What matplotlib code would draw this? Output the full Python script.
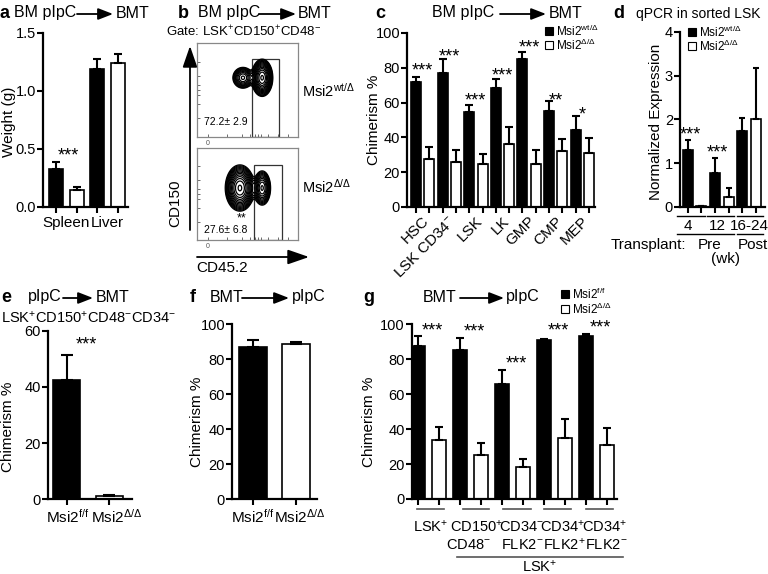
import numpy as np
import matplotlib
matplotlib.use('Agg')
import matplotlib.pyplot as plt
from matplotlib.patches import Rectangle

plt.rcParams['font.family'] = ['Liberation Sans', 'DejaVu Sans']
plt.rcParams['mathtext.fontset'] = 'custom'
plt.rcParams['mathtext.rm'] = 'Liberation Sans'
plt.rcParams['mathtext.it'] = 'Liberation Sans:italic'
plt.rcParams['mathtext.bf'] = 'Liberation Sans:bold'

W, H = 768, 574
HET = 'Msi2$^{\\mathregular{wt/Δ}}$'
KO = 'Msi2$^{\\mathregular{Δ/Δ}}$'
FF = 'Msi2$^{\\mathregular{f/f}}$'

# ---- data ----
# a: organ weight (g)
a_groups = ['Spleen', 'Liver']
a_het = [0.33, 1.19]
a_het_err = [0.06, 0.09]
a_ko = [0.15, 1.24]
a_ko_err = [0.02, 0.08]

# b: flow contour blobs (x, y, sx, sy, weight) in box fraction
b_top_blobs = [(0.455, 0.63, 0.045, 0.05, 0.35), (0.645, 0.63, 0.04, 0.075, 1.0)]
b_bot_blobs = [(0.425, 0.565, 0.055, 0.095, 1.0), (0.645, 0.565, 0.036, 0.08, 0.45)]
b_pct = ['72.2± 2.9', '27.6± 6.8']

# c: chimerism %
c_groups = ['HSC', 'LSK CD34$^{-}$', 'LSK', 'LK', 'GMP', 'CMP', 'MEP']
c_het = [72, 77, 54.5, 68.5, 85, 55.3, 44.3]
c_het_err = [3, 8, 4.4, 5, 3.8, 5.6, 8]
c_ko = [27.5, 25.6, 24.6, 36.1, 24.6, 32.3, 30.9]
c_ko_err = [7, 7, 5.7, 10, 8.2, 6.6, 8.6]
c_stars = ['***', '***', '***', '***', '***', '**', '*']
c_star_y = [83, 91, 66, 80, 96, 66, 58]

# d: qPCR normalized expression
d_times = ['4', '12', '16-24']
d_het = [1.3, 0.77, 1.73]
d_het_err = [0.22, 0.35, 0.3]
d_ko = [0.03, 0.22, 2.0]
d_ko_err = [0.0, 0.21, 1.18]
d_stars = ['***', '***', '']
d_star_y = [1.83, 1.42, 0]

# e: LT-HSC chimerism
e_labels = [FF, KO]
e_vals = [42.4, 1.0]
e_err = [9.0, 0.4]

# f: chimerism
f_labels = [FF, KO]
f_vals = [87, 88.8]
f_err = [3.8, 1.0]

# g: chimerism by population
g_top = ['LSK$^{+}$', 'CD150$^{+}$', 'CD34$^{-}$', 'CD34$^{+}$', 'CD34$^{+}$']
g_bot = ['', 'CD48$^{-}$', 'FLK2$^{-}$', 'FLK2$^{+}$', 'FLK2$^{-}$']
g_ff = [87.8, 85.3, 65.6, 91.0, 93.5]
g_ff_err = [5.7, 7.0, 8.2, 0.6, 0.9]
g_ko = [33.8, 25.4, 18.5, 34.9, 31.1]
g_ko_err = [7.6, 6.8, 4.6, 10.7, 9.4]
g_star_y = [101.3, 100.2, 81.9, 101.3, 102.5]

fig = plt.figure(figsize=(W / 100, H / 100), dpi=100)


def px_axes(left, top, right, bottom):
    return fig.add_axes([left / W, 1 - bottom / H, (right - left) / W, (bottom - top) / H])


def style(ax, xlim, ylim, yticks, ylabels=None):
    ax.set_xlim(*xlim)
    ax.set_ylim(*ylim)
    ax.set_yticks(yticks)
    if ylabels is not None:
        ax.set_yticklabels(ylabels)
    for s in ['top', 'right']:
        ax.spines[s].set_visible(False)
    for s in ['left', 'bottom']:
        ax.spines[s].set_linewidth(1.6)
    ax.tick_params(direction='out', length=4, width=1.5, labelsize=10.5, pad=1)
    ax.tick_params(axis='x', labelbottom=False)
    ax.patch.set_alpha(0)


def err_up(ax, x, v, e, cap=3):
    ax.errorbar(x, v, yerr=[np.zeros(len(v)), e], fmt='none', ecolor='black',
                elinewidth=1.5, capsize=cap, capthick=1.5, zorder=3)


def pair_bars(ax, black, black_err, white, white_err, width, cap=3):
    n = len(black)
    xb = np.arange(n) * 2
    xw = xb + 1
    ax.bar(xb, black, width, color='black', edgecolor='black', lw=1.2, zorder=2)
    ax.bar(xw, white, width, color='white', edgecolor='black', lw=1.2, zorder=2)
    err_up(ax, xb, black, black_err, cap)
    err_up(ax, xw, white, white_err, cap)
    ax.set_xticks(np.arange(2 * n))


# overlay for titles, labels and arrows (pixel coords)
ov = fig.add_axes([0, 0, 1, 1])
ov.set_xlim(0, W)
ov.set_ylim(H, 0)
ov.axis('off')


def arrow(x0, y0, x1, y1, hl=0.9, hw=0.35, lw=1.3):
    ov.annotate('', xy=(x1, y1), xytext=(x0, y0),
                arrowprops=dict(arrowstyle=f'-|>,head_length={hl},head_width={hw}',
                                lw=lw, color='black', shrinkA=0, shrinkB=0))


def txt(x, y, s, size=11, ha='left', **kw):
    ov.text(x, y, s, fontsize=size, ha=ha, va='center', **kw)


def title(letter, lx, parts, y):
    txt(lx, y, letter, size=13, weight='bold')
    for kind, x0, x1, s in parts:
        if kind == 't':
            txt(x0, y, s, size=11.5)
        else:
            arrow(x0, y + 1, x1, y + 1)


def legend(x, y, labels, size=8.5, gap=14):
    for i, (fc, s) in enumerate(zip(['black', 'white'], labels)):
        ov.add_patch(Rectangle((x, y + i * gap - 4), 8, 8, fc=fc, ec='black', lw=0.8))
        txt(x + 11, y + i * gap, s, size=size)


# ---- panel a ----
ax = px_axes(43, 33, 128, 207)
pair_bars(ax, a_het, a_het_err, a_ko, a_ko_err, 0.68)
style(ax, (-0.63, 3.48), (0, 1.5), [0, 0.5, 1.0, 1.5], ['0.0', '0.5', '1.0', '1.5'])
for i, g in enumerate(a_groups):
    ax.text(2 * i + 0.5, -0.05, g, transform=ax.get_xaxis_transform(), ha='center', va='top', fontsize=11)
ax.text(0.6, 0.51, '***', ha='center', va='top', fontsize=13)
title('a', 0, [('t', 14, 0, 'BM pIpC'), ('a', 77, 113, ''), ('t', 116, 0, 'BMT')], 13)
txt(9, 122, 'Weight (g)', ha='center', rotation=90)

# ---- panel b ----
gx, gy = np.meshgrid(np.linspace(0, 1, 400), np.linspace(0, 1, 400))
for (top, bot), blobs, gate, pct in zip([(43, 137), (148, 240)], [b_top_blobs, b_bot_blobs],
                                        [(0.545, 0.812, 0.83), (0.564, 0.842, 0.815)], b_pct):
    bx = px_axes(197, top, 298, bot)
    z = np.zeros_like(gx)
    for cx, cy, sx, sy, w in blobs:
        z += w * np.exp(-((gx - cx) ** 2 / (2 * sx ** 2) + (gy - cy) ** 2 / (2 * sy ** 2)))
    bx.contour(gx, gy, z, levels=np.geomspace(0.03, 0.95, 14), colors='black', linewidths=0.9)
    bx.add_patch(Rectangle((gate[0], 0), gate[1] - gate[0], gate[2], fill=False, ec='#333333', lw=0.9))
    bx.set_xlim(0, 1)
    bx.set_ylim(0, 1)
    for s in bx.spines.values():
        s.set_color('#888888')
        s.set_linewidth(0.9)
    bx.set_xticks([0.11])
    bx.set_xticklabels(['0'], fontsize=5)
    bx.set_yticks([])
    bx.set_xticks([0.3, 0.45, 0.52, 0.57, 0.6, 0.63, 0.7, 0.8, 0.9], minor=True)
    bx.set_yticks([0.2, 0.35, 0.45, 0.5, 0.55, 0.65, 0.8], minor=True)
    bx.tick_params(which='both', direction='in', length=2, width=0.6, pad=2, colors='#555555')
    bx.text(0.07, 0.16 if top == 43 else 0.11, pct, transform=bx.transAxes, fontsize=7.5, va='center')
    if top != 43:
        bx.text(0.445, 0.23, '**', transform=bx.transAxes, fontsize=9, ha='center', va='center')
title('b', 178, [('t', 198, 0, 'BM pIpC'), ('a', 259, 296, ''), ('t', 298, 0, 'BMT')], 13)
txt(244, 32, 'Gate: LSK$^{+}$CD150$^{+}$CD48$^{-}$', size=9.5, ha='center')
arrow(190, 230, 190, 46, hl=1.3, hw=0.45)
arrow(197, 257, 309, 257, hl=1.3, hw=0.45)
txt(175, 203, 'CD150', ha='center', rotation=90)
txt(222, 268, 'CD45.2', ha='center')
txt(302, 91, HET, size=10.5)
txt(302, 187, KO, size=10.5)

# ---- panel c ----
ax = px_axes(407, 33, 595, 207)
pair_bars(ax, c_het, c_het_err, c_ko, c_ko_err, 0.75)
style(ax, (-0.68, 13.46), (0, 100), np.arange(0, 101, 20))
for i, g in enumerate(c_groups):
    ax.text(2 * i + 0.45, -0.04, g, transform=ax.get_xaxis_transform(), ha='right', va='top',
            rotation=45, rotation_mode='anchor', fontsize=11)
for i, (s, y) in enumerate(zip(c_stars, c_star_y)):
    ax.text(2 * i + 0.5, y, s, ha='center', va='top', fontsize=13)
title('c', 375, [('t', 432, 0, 'BM pIpC'), ('a', 500, 546, ''), ('t', 549, 0, 'BMT')], 13)
txt(374, 120, 'Chimerism %', ha='center', rotation=90)
legend(545, 31, [HET, KO])

# ---- panel d ----
ax = px_axes(680, 31.7, 765, 207)
pair_bars(ax, d_het, d_het_err, d_ko, d_ko_err, 0.74, cap=2.5)
style(ax, (-0.59, 5.7), (0, 4), [0, 1, 2, 3, 4])
for i, (s, y) in enumerate(zip(d_stars, d_star_y)):
    if s:
        ax.text(2 * i + 0.2, y, s, ha='center', va='top', fontsize=13)
txt(613, 14, 'd', size=13, weight='bold')
txt(636, 14, 'qPCR in sorted LSK', size=10)
txt(656, 122, 'Normalized Expression', ha='center', rotation=90)
legend(688, 32, [HET, KO])
for x0, x1 in [(677, 705), (707, 734), (737, 763)]:
    ov.plot([x0, x1], [215.7, 215.7], color='black', lw=1)
for x0, x1 in [(677, 734), (737, 763)]:
    ov.plot([x0, x1], [234.3, 234.3], color='black', lw=1)
for x, s in zip([688, 717, 749], d_times):
    txt(x, 226, s, ha='center')
txt(648, 245, 'Transplant:', ha='center')
txt(710, 245, 'Pre', ha='center')
txt(753, 245, 'Post', ha='center')
txt(725, 259, '(wk)', ha='center')

# ---- panel e ----
ax = px_axes(48, 330.7, 132, 499.3)
ax.bar([0, 1], e_vals, 0.64, color=['black', 'white'], edgecolor='black', lw=1.2, zorder=2)
err_up(ax, [0, 1], e_vals, e_err, cap=4)
ax.set_xticks([0, 1])
style(ax, (-0.44, 1.54), (0, 60), [0, 20, 40, 60])
for x, s in zip([0.03, 1.19], e_labels):
    ax.text(x, -0.05, s, transform=ax.get_xaxis_transform(), ha='center', va='top', fontsize=11)
ax.text(0.46, 57.8, '***', ha='center', va='top', fontsize=13)
title('e', 1, [('t', 28, 0, 'pIpC'), ('a', 63, 93, ''), ('t', 96, 0, 'BMT')], 297)
txt(1, 318, 'LSK$^{+}$CD150$^{+}$CD48$^{-}$CD34$^{-}$', size=10.5)
txt(8, 427, 'Chimerism %', ha='center', rotation=90)

# ---- panel f ----
ax = px_axes(232, 324.3, 317, 499.3)
ax.bar([0, 1], f_vals, 0.65, color=['black', 'white'], edgecolor='black', lw=1.2, zorder=2)
err_up(ax, [0, 1], f_vals, f_err, cap=4)
ax.set_xticks([0, 1])
style(ax, (-0.49, 1.49), (0, 100), np.arange(0, 101, 20))
for x, s in zip([0.0, 1.09], f_labels):
    ax.text(x, -0.05, s, transform=ax.get_xaxis_transform(), ha='center', va='top', fontsize=11)
title('f', 190, [('t', 210, 0, 'BMT'), ('a', 242, 289, ''), ('t', 292, 0, 'pIpC')], 297)
txt(197, 422, 'Chimerism %', ha='center', rotation=90)

# ---- panel g ----
ax = px_axes(411.7, 324.3, 617, 499)
pair_bars(ax, g_ff, g_ff_err, g_ko, g_ko_err, 0.67)
style(ax, (-0.3, 9.48), (0, 100), np.arange(0, 101, 20))
for i, y in enumerate(g_star_y):
    ax.text(2 * i + 0.67, y, '***', ha='center', va='top', fontsize=13)
title('g', 363, [('t', 423, 0, 'BMT'), ('a', 460, 504, ''), ('t', 506, 0, 'pIpC')], 297)
txt(369, 422, 'Chimerism %', ha='center', rotation=90)
legend(561, 294, [FF, KO], gap=15)
for x0, x1 in [(417, 444), (463, 489), (503, 531), (544, 571), (586, 613)]:
    ov.plot([x0, x1], [509, 509], color='#555555', lw=1.2)
for x, s in zip([431, 477, 522, 563, 605], g_top):
    txt(x, 527, s, size=10.5, ha='center')
for x, s in zip([431, 469, 522, 564, 606], g_bot):
    txt(x, 545, s, size=10.5, ha='center')
ov.plot([457, 623], [557, 557], color='#555555', lw=1.2)
txt(540, 567, 'LSK$^{+}$', size=10.5, ha='center')

fig.savefig('out.png', dpi=100)
